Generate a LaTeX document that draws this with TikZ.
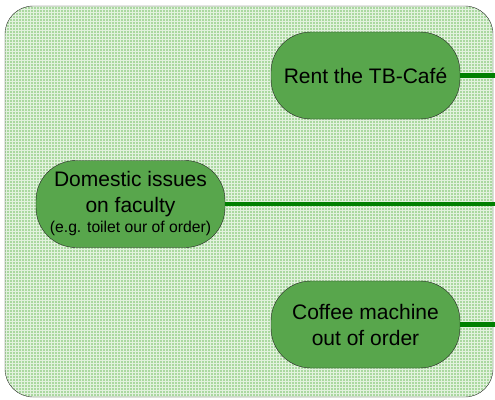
\documentclass[tikz,border=0pt]{standalone}
\usepackage{fontspec}
\setmainfont{Liberation Sans}
\usetikzlibrary{patterns}

\definecolor{panelgreen}{RGB}{170,216,160}
\definecolor{panelgrid}{RGB}{226,242,222}
\definecolor{topicgreen}{RGB}{88,166,76}
\definecolor{linkgreen}{RGB}{0,128,0}

\tikzset{
	topic/.style={draw=black!85, thin, fill=topicgreen, rounded corners=40pt,
		minimum width=189pt, minimum height=87pt, inner sep=0pt,
		align=center, font=\fontsize{21}{26}\selectfont},
	link/.style={draw=linkgreen, line width=4.5pt},
}

\begin{document}
\begin{tikzpicture}[x=1pt,y=-1pt]
			\useasboundingbox (0,0) rectangle (495,399);
			% panel
			\draw[rounded corners=28pt, black!80, preaction={fill=panelgreen},
				pattern=grid, pattern color=panelgrid] (5,6) rectangle (493,397);
			% loose ends on the right
			\coordinate (out1) at (495,75.5);
			\coordinate (out2) at (495,204);
			\coordinate (out3) at (495,324.5);
			% topics
			\node[topic] (cafe) at (365.5,75.5) {Rent the TB-Caf\'e};
			\node[topic] (domestic) at (130.5,204)
				{Domestic issues\\on faculty\\[-6pt]{\fontsize{15.7}{18}\selectfont (e.g. toilet our of order)}};
			\node[topic] (coffee) at (365.5,324.5) {Coffee machine\\out of order};
			% links
			\draw[link] (cafe) -- (out1);
			\draw[link] (domestic) -- (out2);
			\draw[link] (coffee) -- (out3);
\end{tikzpicture}
\end{document}
